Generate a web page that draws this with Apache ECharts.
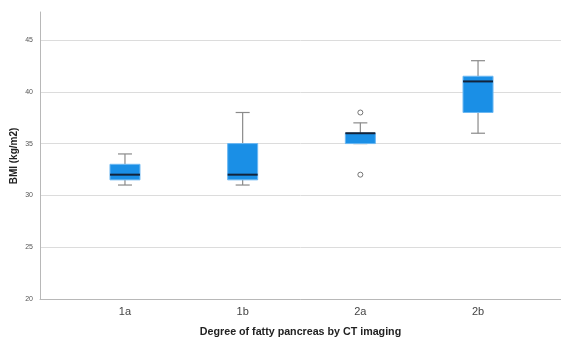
<!DOCTYPE html>
<html><head><meta charset="utf-8">
<script src="https://cdn.jsdelivr.net/npm/echarts@6/dist/echarts.min.js"></script>
<style>html,body{margin:0;padding:0;background:#fff}#c{width:561px;height:338px}</style>
</head><body><div id="c"></div>
<script>
const categories = ['1a', '1b', '2a', '2b'];
// [min, Q1, median, Q3, max]
const boxValues = [
  [31, 31.5, 32, 33, 34],
  [31, 31.5, 32, 35, 38],
  [35, 35, 36, 36, 37],
  [36, 38, 41, 41.5, 43]
];
const outliers = [[2, 38], [2, 32]]; // [category index, value]
const yTicks = [20, 25, 30, 35, 40, 45];
const yName = 'BMI (kg/m2)';

const chart = echarts.init(document.getElementById('c'));
const boxData = boxValues.map((b, i) => [i + 1].concat(b));
chart.setOption({
  animation: false,
  grid: {left: 40, right: 0, top: 12, bottom: 39, containLabel: false, outerBoundsMode: 'none'},
  graphic: [{
    type: 'text', x: 14, y: 156, rotation: Math.PI / 2,
    style: {text: yName, font: 'bold 10px "Liberation Sans"', fill: '#222',
      align: 'center', verticalAlign: 'middle', textAlign: 'center', textVerticalAlign: 'middle'}
  }],
  xAxis: {
    type: 'value', min: 0.278, max: 4.705,
    name: 'Degree of fatty pancreas by CT imaging',
    nameLocation: 'middle', nameGap: 28, nameMoveOverlap: false,
    nameTextStyle: {fontFamily: 'Liberation Sans', fontWeight: 'bold', fontSize: 10.7, color: '#222'},
    axisLine: {lineStyle: {color: '#b8b8b8', width: 1}},
    axisTick: {show: false},
    splitLine: {show: false},
    axisLabel: {customValues: [1, 2, 3, 4], formatter: v => categories[Math.round(v) - 1] || '',
      fontFamily: 'Liberation Sans', fontSize: 11, color: '#444', margin: 7}
  },
  yAxis: {
    type: 'value', min: 20, max: 47.7, interval: 5,
    axisLine: {show: true, lineStyle: {color: '#b8b8b8', width: 1}},
    axisTick: {show: false},
    axisLabel: {fontFamily: 'Liberation Sans', fontSize: 7, color: '#555', margin: 7,
      showMaxLabel: false, formatter: v => yTicks.indexOf(v) >= 0 ? String(v) : ''},
    splitLine: {show: true, showMaxLine: false, lineStyle: {color: '#dcdcdc', width: 1}}
  },
  series: [{
    type: 'custom',
    data: boxData,
    encode: {x: 0, y: [1, 2, 3, 4, 5]},
    renderItem: function (params, api) {
      const x = api.value(0);
      const hw = 15, cw = 7;
      const pMin = api.coord([x, api.value(1)]);
      const pQ1 = api.coord([x, api.value(2)]);
      const pMed = api.coord([x, api.value(3)]);
      const pQ3 = api.coord([x, api.value(4)]);
      const pMax = api.coord([x, api.value(5)]);
      const cx = pMin[0];
      const ws = {stroke: '#8a8a8a', lineWidth: 1.2};
      return {type: 'group', children: [
        {type: 'line', shape: {x1: cx, y1: pQ3[1], x2: cx, y2: pMax[1]}, style: ws},
        {type: 'line', shape: {x1: cx, y1: pQ1[1], x2: cx, y2: pMin[1]}, style: ws},
        {type: 'line', shape: {x1: cx - cw, y1: pMax[1], x2: cx + cw, y2: pMax[1]}, style: ws},
        {type: 'line', shape: {x1: cx - cw, y1: pMin[1], x2: cx + cw, y2: pMin[1]}, style: ws},
        {type: 'rect', shape: {x: cx - hw, y: pQ3[1], width: 2 * hw, height: Math.max(pQ1[1] - pQ3[1], 0.5)},
          style: {fill: '#1a8fe6', stroke: '#6cb8f2', lineWidth: 1}},
        {type: 'line', shape: {x1: cx - hw, y1: pMed[1], x2: cx + hw, y2: pMed[1]},
          style: {stroke: '#13233a', lineWidth: 2}}
      ]};
    }
  }, {
    type: 'scatter',
    data: outliers.map(o => [o[0] + 1, o[1]]),
    symbol: 'circle', symbolSize: 5,
    itemStyle: {color: '#fff', borderColor: '#555', borderWidth: 1}
  }]
});
</script></body></html>
